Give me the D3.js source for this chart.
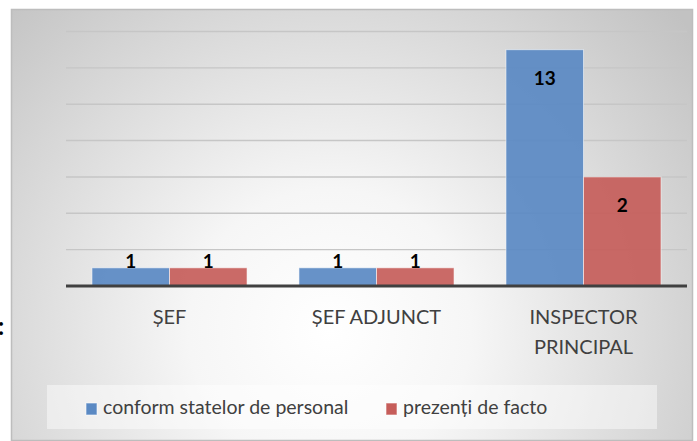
<!DOCTYPE html>
<html>
<head>
<meta charset="utf-8">
<script src="https://cdn.jsdelivr.net/npm/d3@7"></script>
<style>
  body { margin: 0; background: #fff; }
  svg { display: block; font-family: Lato, "Open Sans", sans-serif; }
</style>
</head>
<body>
<div id="chart"></div>
<script>
// chart data
var categories = [["ȘEF"], ["ȘEF ADJUNCT"], ["INSPECTOR", "PRINCIPAL"]];
var seriesNames = ["conform statelor de personal", "prezenți de facto"];
var conformValues = [1, 1, 13];
// bar heights as drawn in the source picture (the last red bar is drawn at 6)
var prezentiValues = [1, 1, 6];
// data labels as printed in the source picture
var conformLabels = ["1", "1", "13"];
var prezentiLabels = ["1", "1", "2"];
var yTicks = [2, 4, 6, 8, 10, 12, 14];

var colors = ["#5a89c3", "#c65d5a"];

var svgWidth = 697, svgHeight = 441;

var plot = { left: 66, right: 687, top: 31.5, bottom: 286 };

var svg = d3.select("#chart").append("svg")
  .attr("width", svgWidth)
  .attr("height", svgHeight);

// background gradient
var defs = svg.append("defs");
var grad = defs.append("radialGradient")
  .attr("id", "bg")
  .attr("gradientUnits", "userSpaceOnUse")
  .attr("cx", 330).attr("cy", 330).attr("r", 470);
grad.append("stop").attr("offset", "0").attr("stop-color", "#ffffff");
grad.append("stop").attr("offset", "0.3").attr("stop-color", "#f6f6f6");
grad.append("stop").attr("offset", "1").attr("stop-color", "#c2c2c2");

svg.append("rect")
  .attr("x", 11.5).attr("y", 9.5)
  .attr("width", 681).attr("height", 431)
  .attr("fill", "url(#bg)")
  .attr("stroke", "#bdbdbd")
  .attr("stroke-width", 1.5);

// stray colon cut off at the left edge (as in the source)
svg.append("text")
  .attr("x", -2).attr("y", 335)
  .attr("font-size", 24)
  .attr("font-weight", "bold")
  .attr("fill", "#000")
  .text(":");

var data = categories.map(function(c, i) {
  return {
    cat: c.join(" "),
    lines: c,
    values: [conformValues[i], prezentiValues[i]],
    labels: [conformLabels[i], prezentiLabels[i]]
  };
});

var x0 = d3.scaleBand()
  .domain(data.map(d => d.cat))
  .range([plot.left, plot.right]);

var x1 = d3.scaleBand()
  .domain(seriesNames)
  .range([0, x0.bandwidth()])
  .paddingInner(0)
  .paddingOuter(0.335);

var y = d3.scaleLinear()
  .domain([0, 14])
  .range([plot.bottom, plot.top]);

// gridlines
svg.append("g")
  .selectAll("line")
  .data(yTicks)
  .enter()
  .append("line")
  .attr("x1", plot.left).attr("x2", plot.right)
  .attr("y1", d => y(d)).attr("y2", d => y(d))
  .attr("stroke", "#c6c6c6")
  .attr("stroke-width", 1.4);

// bars
var groups = svg.append("g")
  .selectAll("g")
  .data(data)
  .enter()
  .append("g")
  .attr("transform", d => `translate(${x0(d.cat)},0)`);

var items = d => d.values.map((v, j) => ({ series: seriesNames[j], value: v, label: d.labels[j], j: j }));

groups.selectAll("rect")
  .data(items)
  .enter()
  .append("rect")
  .attr("x", d => x1(d.series))
  .attr("y", d => y(d.value))
  .attr("width", x1.bandwidth())
  .attr("height", d => y(0) - y(d.value))
  .attr("fill", d => colors[d.j])
  .attr("fill-opacity", 0.92)
  .attr("stroke", "rgba(255,255,255,0.55)")
  .attr("stroke-width", 1);

// value labels: inside the top of tall bars, on top of short ones
groups.selectAll("text")
  .data(items)
  .enter()
  .append("text")
  .attr("x", d => x1(d.series) + x1.bandwidth() / 2)
  .attr("y", d => (y(0) - y(d.value) > 40) ? y(d.value) + 35 : y(d.value))
  .attr("text-anchor", "middle")
  .attr("font-size", 19)
  .attr("font-weight", "bold")
  .attr("fill", "#000")
  .text(d => d.label);

// baseline
svg.append("line")
  .attr("x1", plot.left).attr("x2", plot.right)
  .attr("y1", y(0)).attr("y2", y(0))
  .attr("stroke", "#404040")
  .attr("stroke-width", 3);

// category labels
var xAxis = svg.append("g");
data.forEach(function(d) {
  var t = xAxis.append("text")
    .attr("text-anchor", "middle")
    .attr("font-size", 20)
    .attr("fill", "#404040");
  d.lines.forEach(function(line, k) {
    t.append("tspan")
      .attr("x", x0(d.cat) + x0.bandwidth() / 2)
      .attr("y", 324 + k * 30)
      .text(line);
  });
});

// legend
var legend = svg.append("g");
legend.append("rect")
  .attr("x", 47).attr("y", 385)
  .attr("width", 610).attr("height", 44)
  .attr("fill", "#ffffff")
  .attr("fill-opacity", 0.45);

var legendX = [86, 386];
seriesNames.forEach(function(name, i) {
  legend.append("rect")
    .attr("x", legendX[i]).attr("y", 403)
    .attr("width", 11).attr("height", 12)
    .attr("fill", colors[i])
    .attr("stroke", "rgba(255,255,255,0.6)");
  legend.append("text")
    .attr("x", legendX[i] + 17).attr("y", 414)
    .attr("font-size", 19.5)
    .attr("fill", "#404040")
    .text(name);
});
</script>
</body>
</html>
